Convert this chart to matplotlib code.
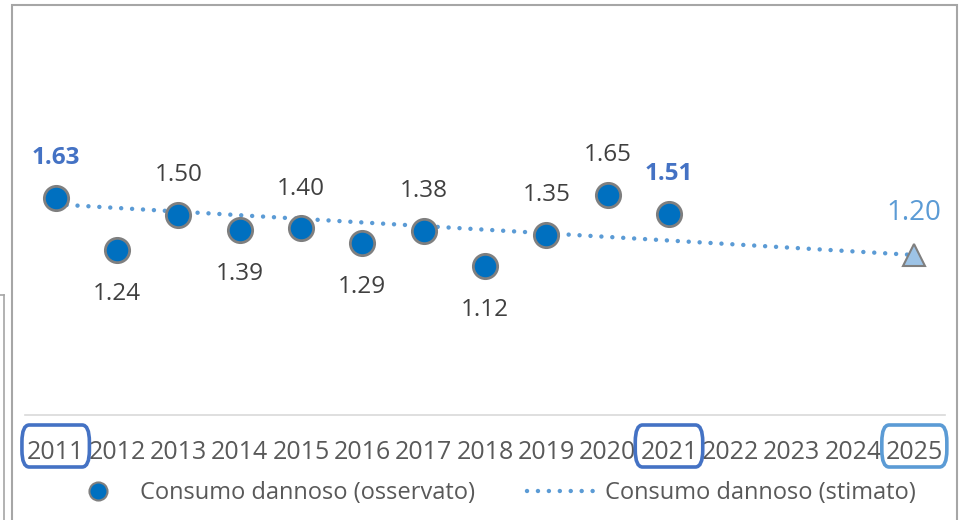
import matplotlib
matplotlib.use('Agg')
import matplotlib.pyplot as plt
from matplotlib.lines import Line2D
from matplotlib.patches import FancyBboxPatch, Rectangle

plt.rcParams['font.family'] = ['Open Sans', 'DejaVu Sans']

# dati
anni = [2011, 2012, 2013, 2014, 2015, 2016, 2017, 2018, 2019, 2020, 2021]
osservato = [1.63, 1.24, 1.50, 1.39, 1.40, 1.29, 1.38, 1.12, 1.35, 1.65, 1.51]
posizione = ['su', 'giu', 'su', 'giu', 'su', 'giu', 'su', 'giu', 'su', 'su', 'su']
anni_trend = [2011, 2025]
stimato = [1.58, 1.20]
anno_stima = 2025
valore_stima = 1.20
anni_asse = list(range(2011, 2026))
anni_evidenziati = [2011, 2021, 2025]

blu = '#0070C0'
blu_scuro = '#4472C4'
blu_chiaro = '#5B9BD5'
grigio = '#7F7F7F'

fig = plt.figure(figsize=(9.61, 5.2), dpi=100)
W, H = 961, 520
ax = fig.add_axes([25 / W, (H - 415) / H, 920 / W, 400 / H])

# linea di tendenza
ax.plot(anni_trend, stimato, color=blu_chiaro, lw=3.2,
        linestyle=(0, (0.01, 2.45)), dash_capstyle='round', zorder=2)

# punti osservati
ax.plot(anni, osservato, linestyle='none', marker='o', ms=17.5,
        markerfacecolor=blu, markeredgecolor=grigio, mew=2, zorder=3)

# punto stimato
ax.plot([anno_stima], [valore_stima], linestyle='none', marker='^', ms=16,
        markerfacecolor='#9DC3E6', markeredgecolor=grigio, mew=1.5, zorder=3)

for a, v, p in zip(anni, osservato, posizione):
    grassetto = a in anni_evidenziati
    col = blu_scuro if grassetto else '#404040'
    dy = 28.5 if p == 'su' else -32
    ax.annotate(f'{v:.2f}', (a, v), xytext=(0, dy), textcoords='offset points',
                ha='center', va='center', fontsize=17.5, color=col,
                fontweight='bold' if grassetto else 'normal')

ax.annotate(f'{valore_stima:.2f}', (anno_stima, valore_stima), xytext=(0, 30),
            textcoords='offset points', ha='center', va='center',
            fontsize=20, color=blu_chiaro)

ax.set_xlim(2010.5, 2025.5)
ax.set_ylim(0, 3)
ax.set_yticks([])
ax.set_xticks(anni_asse)
ax.set_xticklabels([str(a) for a in anni_asse], fontsize=18, color='#595959')
ax.tick_params(axis='x', length=0, pad=18)
for s in ['top', 'left', 'right']:
    ax.spines[s].set_visible(False)
ax.spines['bottom'].set_color('#D9D9D9')
ax.spines['bottom'].set_linewidth(1.2)

# riquadri sugli anni
tr = ax.get_xaxis_transform()
larghezze = {2011: 1.1, 2021: 1.1, 2025: 1.06}
colori_box = {2011: blu_scuro, 2021: blu_scuro, 2025: blu_chiaro}
for a in anni_evidenziati:
    w = larghezze[a]
    box = FancyBboxPatch((a - w / 2, -0.13), w, 0.105, transform=tr,
                         boxstyle='round,pad=0,rounding_size=0.12',
                         mutation_aspect=0.35,
                         fill=False, edgecolor=colori_box[a], lw=2.6,
                         clip_on=False, zorder=5)
    ax.add_patch(box)

# legenda
h1 = Line2D([], [], linestyle='none', marker='o', ms=13,
            markerfacecolor=blu, markeredgecolor=grigio, mew=1.5)
h2 = Line2D([], [], color=blu_chiaro, lw=3.2, linestyle=(0, (0.01, 2.45)),
            dash_capstyle='round')
leg = fig.legend([h1, h2], ['Consumo dannoso (osservato)', 'Consumo dannoso (stimato)'],
                 loc='center', bbox_to_anchor=(0.509, (H - 493) / H), ncol=2,
                 frameon=False, fontsize=17, handlelength=3.0, handletextpad=0.3,
                 columnspacing=2.2, labelcolor='#595959')

# cornice del grafico
fig.add_artist(Rectangle((12 / W, -0.01), (957 - 12) / W, (H - 5) / H + 0.01,
                         transform=fig.transFigure, fill=False,
                         edgecolor='#A6A6A6', lw=1.5))
fig.add_artist(Line2D([4 / W, 4 / W], [0, (H - 295) / H], transform=fig.transFigure,
                      color='#A6A6A6', lw=1.2))
fig.add_artist(Line2D([0, 4 / W], [(H - 295) / H, (H - 295) / H],
                      transform=fig.transFigure, color='#A6A6A6', lw=1.2))

fig.savefig('out.png', dpi=100)
